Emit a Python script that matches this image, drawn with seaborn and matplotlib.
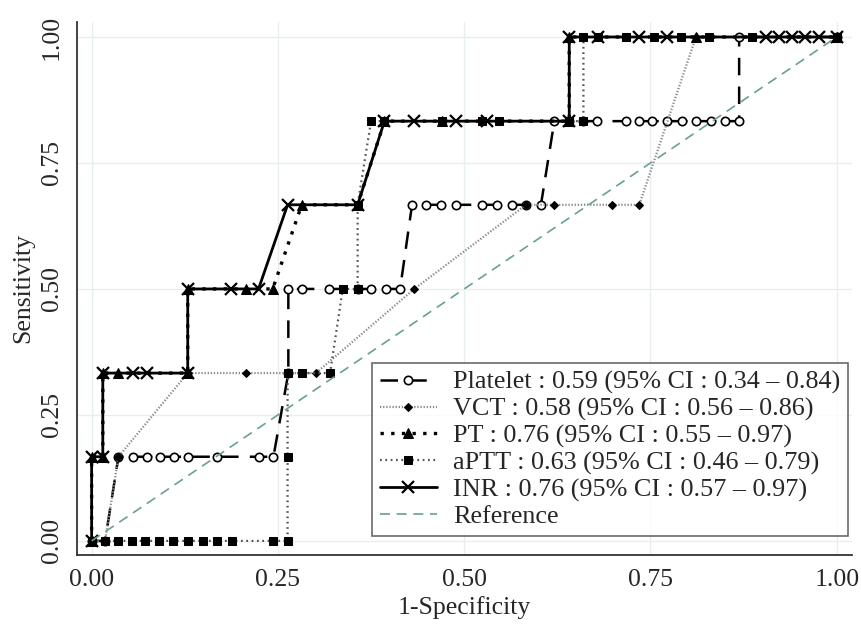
import numpy as np
import pandas as pd
import seaborn as sns
import matplotlib.pyplot as plt

# ----------------------------
# ROC points (x = 1-Specificity, y = Sensitivity)
# ----------------------------
plt_x = [0, 0.018, 0.036, 0.055, 0.074, 0.092, 0.111, 0.130, 0.168, 0.225, 0.244,
         0.264, 0.264, 0.282, 0.319, 0.357, 0.375, 0.395, 0.414,
         0.430, 0.449, 0.469, 0.489, 0.524, 0.544, 0.564, 0.583, 0.603,
         0.621, 0.641, 0.660, 0.678, 0.717, 0.735, 0.752, 0.772, 0.792, 0.811, 0.831, 0.850, 0.869,
         0.869, 1.0]
plt_y = [0, 0] + [0.167] * 9 + [0.333] + [0.5] * 7 + [0.667] * 9 + [0.833] * 13 + [1.0] * 2

vct_x = [0, 0.018, 0.036, 0.129, 0.207, 0.263, 0.301, 0.433, 0.583, 0.620, 0.698, 0.735, 0.811, 1.0]
vct_y = [0, 0, 0.167, 0.333, 0.333, 0.333, 0.333, 0.5, 0.667, 0.667, 0.667, 0.667, 1.0, 1.0]

pt_x = [0, 0, 0.015, 0.015, 0.036, 0.129, 0.129, 0.207, 0.243, 0.282, 0.357, 0.393, 0.470,
        0.641, 0.641, 0.811, 1.0]
pt_y = [0, 0.167, 0.167, 0.333, 0.333, 0.333, 0.5, 0.5, 0.5, 0.667, 0.667, 0.833, 0.833,
        0.833, 1.0, 1.0, 1.0]

aptt_x = [0, 0.018, 0.036, 0.054, 0.071, 0.091, 0.109, 0.129, 0.149, 0.168, 0.188, 0.243, 0.263,
          0.263, 0.263, 0.282, 0.320, 0.337, 0.357, 0.357, 0.375, 0.393, 0.470, 0.524, 0.547,
          0.641, 0.660, 0.660, 0.680, 0.717, 0.755, 0.791, 0.828, 0.886, 1.0]
aptt_y = [0] * 13 + [0.167, 0.333, 0.333, 0.333, 0.5, 0.5, 0.667, 0.833, 0.833, 0.833, 0.833, 0.833,
                     0.833, 0.833] + [1.0] * 8

inr_x = [0, 0, 0.015, 0.015, 0.055, 0.074, 0.129, 0.129, 0.187, 0.224, 0.263, 0.357, 0.393,
         0.433, 0.489, 0.530, 0.641, 0.641, 0.680, 0.735, 0.772, 0.905, 0.922, 0.940, 0.958, 0.976, 1.0]
inr_y = [0, 0.167, 0.167, 0.333, 0.333, 0.333, 0.333, 0.5, 0.5, 0.5, 0.667, 0.667, 0.833,
         0.833, 0.833, 0.833, 0.833, 1.0, 1.0, 1.0, 1.0, 1.0, 1.0, 1.0, 1.0, 1.0, 1.0]

ref_x = [0, 1]
ref_y = [0, 1]

labels = ["Platelet : 0.59 (95% CI : 0.34 \u2013 0.84)",
          "VCT : 0.58 (95% CI : 0.56 \u2013 0.86)",
          "PT : 0.76 (95% CI : 0.55 \u2013 0.97)",
          "aPTT : 0.63 (95% CI : 0.46 \u2013 0.79)",
          "INR : 0.76 (95% CI : 0.57 \u2013 0.97)",
          "Reference"]

sns.set_style("white")
plt.rcParams['font.family'] = ['Liberation Serif', 'DejaVu Serif']

fig = plt.figure(figsize=(8.62, 6.25), dpi=100)
ax = fig.add_axes([0.089, 0.112, 0.899, 0.853])

common = dict(ax=ax, sort=False, estimator=None, color="black")

sns.lineplot(x=plt_x, y=plt_y, label=labels[0], linestyle=(0, (7, 4.5)), linewidth=1.8,
             marker="o", markersize=6, markerfacecolor="white", markeredgecolor="black",
             markeredgewidth=1.2, **common)
sns.lineplot(x=vct_x, y=vct_y, label=labels[1], linestyle=(0, (0.6, 0.8)), linewidth=1.6,
             marker="D", markersize=4, markerfacecolor="black", markeredgecolor="black",
             ax=ax, sort=False, estimator=None, color="#8a8a8a")
sns.lineplot(x=pt_x, y=pt_y, label=labels[2], linestyle=(0, (1, 2.2)), linewidth=2.4,
             marker="^", markersize=7, markerfacecolor="black", markeredgecolor="black",
             **common)
sns.lineplot(x=aptt_x, y=aptt_y, label=labels[3], linestyle=(0, (0.8, 1.6)), linewidth=1.6,
             marker="s", markersize=6, markerfacecolor="black", markeredgecolor="black",
             ax=ax, sort=False, estimator=None, color="#555555")
sns.lineplot(x=inr_x, y=inr_y, label=labels[4], linestyle="-", linewidth=2.0,
             marker="x", markersize=8, markeredgewidth=1.6, markeredgecolor="black",
             **common)
sns.lineplot(x=ref_x, y=ref_y, label=labels[5], linestyle=(0, (6, 4)), linewidth=1.2,
             ax=ax, sort=False, estimator=None, color="#6a9f94")

ax.set_xlim(-0.02, 1.02)
ax.set_ylim(-0.028, 1.03)
ticks = [0, 0.25, 0.5, 0.75, 1.0]
ax.set_xticks(ticks)
ax.set_yticks(ticks)
ax.set_xticklabels(["0.00", "0.25", "0.50", "0.75", "1.00"], fontsize=18.5)
ax.set_yticklabels(["0.00", "0.25", "0.50", "0.75", "1.00"], fontsize=18.5,
                   rotation=90, va="center")
ax.tick_params(axis="both", direction="out", length=7, width=1.2, color="#333333", pad=3)
ax.grid(True, color="#e6eef0", linewidth=1.0)
ax.set_axisbelow(True)

for side in ["top", "right"]:
    ax.spines[side].set_visible(False)
for side in ["left", "bottom"]:
    ax.spines[side].set_color("#333333")
    ax.spines[side].set_linewidth(1.3)

ax.set_xlabel("1-Specificity", fontsize=18.5, labelpad=4)
ax.set_ylabel("Sensitivity", fontsize=18.5, labelpad=5)

leg = ax.legend(loc="lower right", bbox_to_anchor=(0.995, 0.036), borderaxespad=0,
                fontsize=18.8, frameon=True, fancybox=False, numpoints=1,
                handlelength=2.2, labelspacing=0.12, handletextpad=0.6,
                borderpad=0.3)
leg.get_frame().set_edgecolor("#444444")
leg.get_frame().set_linewidth(1.2)

plt.savefig("out.png", dpi=100)
